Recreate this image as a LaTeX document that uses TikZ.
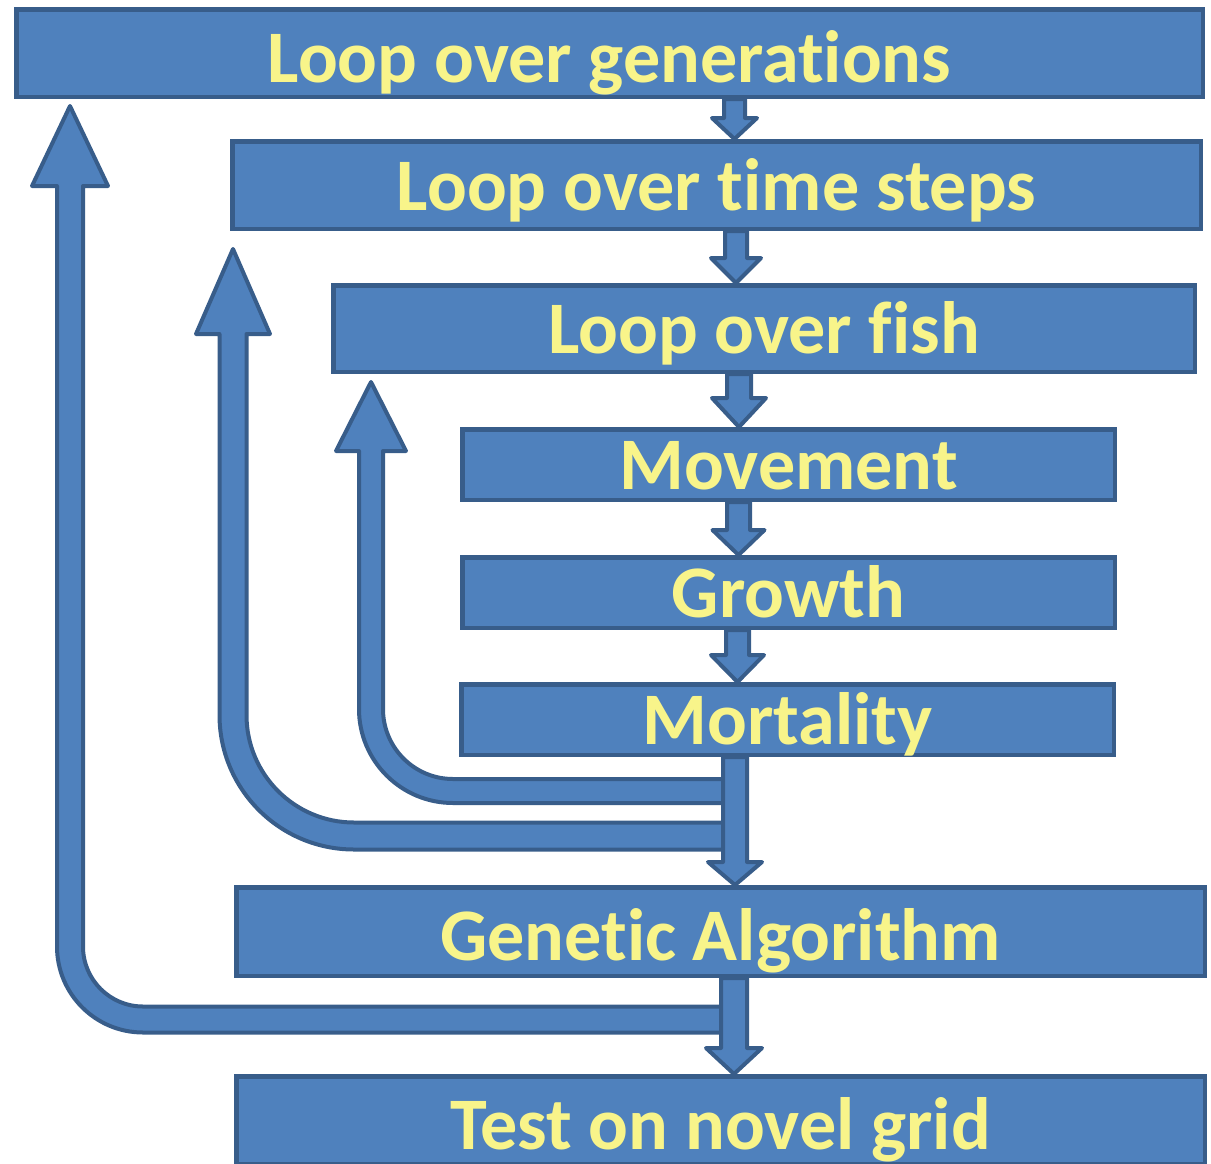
\documentclass[tikz,border=0pt]{standalone}
\usepackage{fontspec}
\setmainfont{Carlito}[Ligatures=NoCommon]
\usetikzlibrary{calc}
\definecolor{boxfill}{RGB}{79,129,189}
\definecolor{boxborder}{RGB}{56,93,138}
\definecolor{textyellow}{RGB}{248,244,138}
\newcommand\stagefont{\fontsize{55.6}{60}\selectfont\bfseries}
\newcommand\downblock[6]{%
  \draw[blockarrow]
    ($(#3,0 |- #1.south)+(-#4,0)$) --
    ($(#3,0 |- #2.north)+(-#4,-#6)$) --
    ($(#3,0 |- #2.north)+(-#5,-#6)$) --
    (#3,0 |- #2.north) --
    ($(#3,0 |- #2.north)+(#5,-#6)$) --
    ($(#3,0 |- #2.north)+(#4,-#6)$) --
    ($(#3,0 |- #1.south)+(#4,0)$) -- cycle;}
\begin{document}
\begin{tikzpicture}[x=0.75pt,y=-0.75pt,
  stagebox/.style 2 args={draw=boxborder, fill=boxfill, line width=3.375pt,
    inner sep=0pt, minimum width={(#1-4.5)*0.75pt}, minimum height={(#2-4.5)*0.75pt},
    text=textyellow, font=\stagefont, text height=37.5pt, text depth=0pt},
  lowtext/.style={text height=43.5pt},
  blockarrow/.style={draw=boxborder, fill=boxfill, line width=3pt, line join=round},
  looparrow/.style={draw=boxborder, fill=boxfill, line width=3pt, line join=round}]
\useasboundingbox (0,0) rectangle (1211,1164);
\clip (0,0) rectangle (1211,1164);

% stages
\node[stagebox={1191}{92}, lowtext] (b1) at (609.5,53)   {Loop over generations};
\node[stagebox={973}{92}]  (b2) at (716.5,185)  {Loop over time steps};
\node[stagebox={866}{91}]  (b3) at (764,328.5)  {Loop over fish};
\node[stagebox={657}{75}]  (b4) at (788.5,464.5) {Movement};
\node[stagebox={657}{75}]  (b5) at (788.5,592.5) {Growth};
\node[stagebox={657}{75}]  (b6) at (787.5,719.5) {Mortality};
\node[stagebox={973}{93}, lowtext]  (b7) at (720.5,931.5) {Genetic Algorithm};
\node[stagebox={973}{92}, lowtext]  (b8) at (720.5,1120)  {Test on novel grid};

% loop-back arrow tips
\coordinate (t1) at ($(70,0 |- b1.south)+(0,7)$);
\coordinate (t2) at ($(233,0 |- b2.south)+(0,18)$);
\coordinate (t3) at ($(371,0 |- b3.south)+(0,8)$);

% outer loop: GA -> generations
\draw[looparrow] (735,1032.5) -- (143,1032.5)
  arc[start angle=90, end angle=180, radius=86] -- (57,186) -- (32,186) -- (t1)
  -- (108,186) -- (83,186) -- (83,946.5)
  arc[start angle=180, end angle=90, radius=60] -- (735,1006.5) -- cycle;

% middle loop: time steps
\draw[looparrow] (735,849.5) -- (354,849.5)
  arc[start angle=90, end angle=180, radius=134.5] -- (219.5,334) -- (196,334) -- (t2)
  -- (270,334) -- (246.5,334) -- (246.5,715)
  arc[start angle=180, end angle=90, radius=107.5] -- (735,822.5) -- cycle;

% inner loop: fish
\draw[looparrow] (735,803) -- (453,803)
  arc[start angle=90, end angle=180, radius=94] -- (359,451) -- (336,451) -- (t3)
  -- (406,451) -- (383,451) -- (383,709)
  arc[start angle=180, end angle=90, radius=70] -- (735,779) -- cycle;

% down arrows
\downblock{b1}{b2}{734.5}{10.5}{22.5}{21}
\downblock{b2}{b3}{736}{11}{25}{25}
\downblock{b3}{b4}{739}{12}{27}{29}
\downblock{b4}{b5}{738.5}{11.5}{26}{25}
\downblock{b5}{b6}{737.5}{11.5}{26.5}{27}
\downblock{b6}{b7}{735}{12}{27}{23}
\downblock{b7}{b8}{734}{13}{28}{26}
\end{tikzpicture}
\end{document}
